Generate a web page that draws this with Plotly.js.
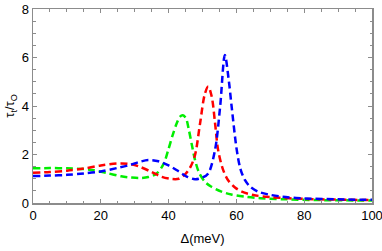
<!DOCTYPE html>
<html>
<head>
<meta charset="utf-8">
<script src="https://cdn.plot.ly/plotly-3.0.1.min.js"></script>
<style>html,body{margin:0;padding:0;background:#fff;}#chart{width:382px;height:251px;}</style>
</head>
<body>
<div id="chart"></div>
<script>
const redX = [0, 5, 10, 15, 20, 25, 28, 31, 35, 38, 41, 43, 45, 46.5, 47.8, 49.3, 50.7, 51.7, 52.7, 53.7, 54.6, 56, 57.5, 59.5, 61.6, 65, 70, 80, 90, 100];
const redY = [1.25, 1.28, 1.33, 1.42, 1.55, 1.63, 1.62, 1.52, 1.28, 1.08, 0.99, 1.0, 1.2, 1.5, 1.98, 3.3, 4.5, 4.8, 4.4, 3.3, 2.19, 1.4, 0.95, 0.65, 0.47, 0.33, 0.24, 0.17, 0.14, 0.12];

const greenX = [0, 5, 10, 15, 18, 22, 26, 29, 31.6, 34, 36.5, 38.5, 39.9, 41.2, 42.4, 43.3, 44.2, 45.1, 46, 47, 47.8, 49, 50.7, 52.5, 55.6, 58.5, 62.5, 67, 75, 85, 100];
const greenY = [1.43, 1.44, 1.43, 1.4, 1.35, 1.23, 1.1, 1.05, 1.03, 1.07, 1.22, 1.6, 2.19, 2.8, 3.29, 3.55, 3.62, 3.5, 3.0, 2.3, 1.77, 1.25, 0.88, 0.68, 0.47, 0.35, 0.26, 0.2, 0.15, 0.12, 0.1];

const blueX = [0, 5, 10, 15, 20, 25, 28.6, 31.5, 34, 37, 40, 43, 45.5, 47.8, 50, 51.7, 53.7, 55.2, 56.6, 57.8, 58.6, 60.1, 61.2, 62.5, 64, 66.4, 69.5, 73.4, 80, 90, 100];
const blueY = [1.11, 1.13, 1.16, 1.22, 1.3, 1.45, 1.57, 1.7, 1.77, 1.72, 1.55, 1.3, 1.08, 0.98, 1.05, 1.22, 2.19, 3.97, 6.1, 5.0, 3.97, 2.19, 1.4, 0.95, 0.68, 0.47, 0.35, 0.26, 0.19, 0.15, 0.13];

const xTicks = [0, 20, 40, 60, 80, 100];
const yTicks = [0, 2, 4, 6, 8];

const dash = '7px,4px';
function tr(x, y, c) {
  return {x: x, y: y, type: 'scatter', mode: 'lines',
    line: {color: c, width: 2.5, dash: dash, shape: 'spline', smoothing: 0.9},
    hoverinfo: 'skip', cliponaxis: true};
}
const data = [tr(greenX, greenY, '#00ee00'), tr(redX, redY, '#ff0000'), tr(blueX, blueY, '#0000ff')];

const fontFam = 'Liberation Sans, Arial, sans-serif';
const axCommon = {
  showline: true, linecolor: '#8c8c8c', linewidth: 1.5, mirror: 'ticks',
  ticks: 'inside', ticklen: 4, tickwidth: 1, tickcolor: '#8c8c8c',
  showgrid: false, zeroline: false, automargin: false,
  ticklabeloverflow: 'allow',
  tickfont: {family: fontFam, size: 13, color: '#000'}
};
const layout = {
  width: 382, height: 251,
  margin: {l: 33, r: 10, t: 9, b: 48},
  paper_bgcolor: '#fff', plot_bgcolor: '#fff',
  showlegend: false,
  xaxis: Object.assign({}, axCommon, {
    range: [0, 100.0001], tickvals: xTicks, ticktext: xTicks.map(String),
    minor: {dtick: 5, ticks: 'inside', ticklen: 2.5, tickcolor: '#8c8c8c', showgrid: false},
    title: {text: 'Δ(meV)', standoff: 12, font: {family: fontFam, size: 13, color: '#000'}}
  }),
  yaxis: Object.assign({}, axCommon, {
    range: [0, 8], tickvals: yTicks, ticktext: yTicks.map(String),
    minor: {dtick: 0.5, ticks: 'inside', ticklen: 2.5, tickcolor: '#8c8c8c', showgrid: false},
    title: {text: 'τ<sub>t</sub>/τ<sub>O</sub>', standoff: 4, font: {family: fontFam, size: 13, color: '#000'}}
  })
};
Plotly.newPlot('chart', data, layout, {staticPlot: true, displayModeBar: false});
</script>
</body>
</html>
